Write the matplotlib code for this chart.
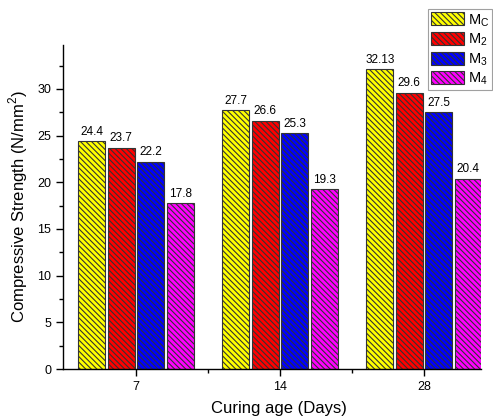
import matplotlib
matplotlib.use("Agg")
import matplotlib.pyplot as plt
import numpy as np
from matplotlib.ticker import MultipleLocator

plt.rcParams['font.family'] = ['Liberation Sans', 'DejaVu Sans']
plt.rcParams['hatch.linewidth'] = 0.8

categories = ['7', '14', '28']
series_names = ['M$_\\mathregular{C}$', 'M$_\\mathregular{2}$', 'M$_\\mathregular{3}$', 'M$_\\mathregular{4}$']
mc = [24.4, 27.7, 32.13]
m2 = [23.7, 26.6, 29.6]
m3 = [22.2, 25.3, 27.5]
m4 = [17.8, 19.3, 20.4]
labels_mc = ['24.4', '27.7', '32.13']
labels_m2 = ['23.7', '26.6', '29.6']
labels_m3 = ['22.2', '25.3', '27.5']
labels_m4 = ['17.8', '19.3', '20.4']
colors = ['#ffff00', '#ff0000', '#0000ff', '#ff00ff']

fig = plt.figure(figsize=(4.93, 4.18), dpi=100)
ax = fig.add_axes([0.1278, 0.1172, 0.8479, 0.7751])

x = np.arange(len(categories))
width = 0.19
step = 0.205
all_vals = [mc, m2, m3, m4]
all_labels = [labels_mc, labels_m2, labels_m3, labels_m4]
handles = []
for i, (vals, labs, c, name) in enumerate(zip(all_vals, all_labels, colors, series_names)):
    pos = x + (i - 1.5) * step
    bars = ax.bar(pos, vals, width, color=c, edgecolor='#333333', linewidth=0.8,
                  hatch='\\\\\\\\\\\\', label=name)
    handles.append(bars)
    for p, v, l in zip(pos, vals, labs):
        ax.text(p, v + 0.35, l, ha='center', va='bottom', fontsize=8.5)

ax.set_xlim(-0.507, 2.396)
ax.set_ylim(0, 34.7)
ax.set_xticks(x)
ax.set_xticklabels(categories)
ax.set_xticks([0.5, 1.5], minor=True)
ax.yaxis.set_major_locator(MultipleLocator(5))
ax.yaxis.set_minor_locator(MultipleLocator(2.5))
ax.tick_params(axis='both', which='major', length=5, width=1, labelsize=9, direction='out')
ax.tick_params(axis='both', which='minor', length=3, width=1, direction='out')
ax.spines['top'].set_visible(False)
ax.spines['right'].set_visible(False)
ax.spines['left'].set_linewidth(1)
ax.spines['bottom'].set_linewidth(1)

ax.set_xlabel('Curing age (Days)', fontsize=12, labelpad=6, x=0.517, ha='center')
ax.set_ylabel('Compressive Strength (N/mm$^\\mathregular{2}$)', fontsize=12, labelpad=5)

leg = fig.legend(handles=handles, loc='upper right', bbox_to_anchor=(492 / 493, 1 - 9 / 418),
                 bbox_transform=fig.transFigure, fontsize=10.5, frameon=True, fancybox=False,
                 edgecolor='#888888', handlelength=2.3, handleheight=1.0,
                 labelspacing=0.2, borderpad=0.2, handletextpad=0.25, borderaxespad=0)
leg.get_frame().set_linewidth(0.8)
leg.set_zorder(5)

fig.savefig('out.png', dpi=100)
